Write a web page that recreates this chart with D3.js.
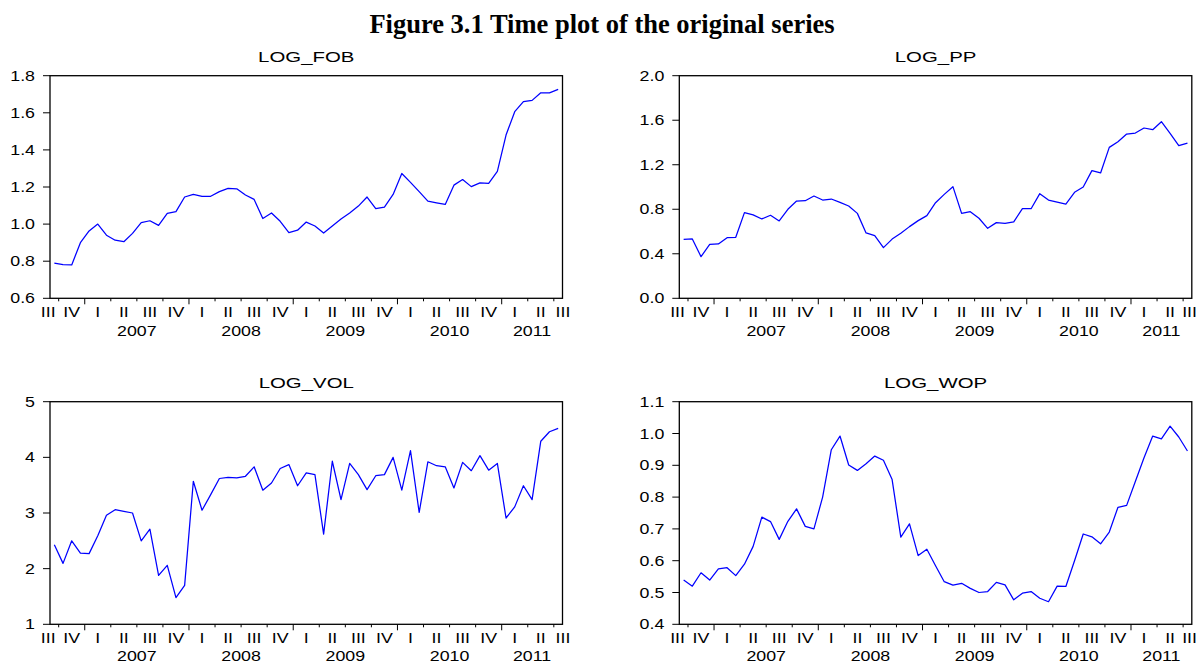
<!DOCTYPE html>
<html>
<head>
<meta charset="utf-8">
<script src="https://cdn.jsdelivr.net/npm/d3@7"></script>
<style>
  body { margin: 0; background: #fff; }
  svg { display: block; }
  text { font-family: "Liberation Sans", Arial, sans-serif; fill: #000; }
</style>
</head>
<body>
<div id="chart"></div>
<script>
// monthly observations, 2006M09 .. 2011M07
const startYear = 2006, startMonth = 9, nObs = 59;
const quarterNames = ['I', 'II', 'III', 'IV'];

const logFob = [0.79, 0.782, 0.78, 0.90, 0.963, 1.0, 0.94, 0.913, 0.905, 0.95,
  1.008, 1.018, 0.993, 1.058, 1.067, 1.146, 1.16, 1.15, 1.15, 1.175,
  1.193, 1.19, 1.157, 1.133, 1.03, 1.06, 1.015, 0.954, 0.967, 1.011,
  0.99, 0.952, 0.99, 1.027, 1.06, 1.097, 1.146, 1.083, 1.092, 1.16,
  1.273, 1.225, 1.175, 1.124, 1.115, 1.106, 1.21, 1.24, 1.202, 1.222,
  1.22, 1.284, 1.48, 1.606, 1.66, 1.667, 1.708, 1.707, 1.726];

const logPp = [0.53, 0.533, 0.374, 0.485, 0.488, 0.545, 0.548, 0.77, 0.75, 0.713,
  0.746, 0.695, 0.80, 0.874, 0.877, 0.919, 0.883, 0.892, 0.862, 0.829,
  0.763, 0.587, 0.563, 0.455, 0.532, 0.584, 0.644, 0.698, 0.743, 0.859,
  0.934, 1.003, 0.763, 0.778, 0.719, 0.629, 0.68, 0.674, 0.686, 0.805,
  0.805, 0.94, 0.883, 0.865, 0.847, 0.952, 1.0, 1.147, 1.126, 1.356,
  1.407, 1.476, 1.485, 1.53, 1.515, 1.587, 1.482, 1.371, 1.395];

const logVol = [2.43, 2.095, 2.50, 2.28, 2.27, 2.59, 2.96, 3.06, 3.03, 3.0,
  2.50, 2.71, 1.88, 2.06, 1.48, 1.70, 3.57, 3.05, 3.33, 3.62,
  3.64, 3.63, 3.66, 3.83, 3.41, 3.54, 3.80, 3.87, 3.49, 3.72,
  3.69, 2.62, 3.93, 3.24, 3.89, 3.69, 3.42, 3.67, 3.69, 4.0,
  3.41, 4.12, 3.01, 3.92, 3.85, 3.83, 3.45, 3.91, 3.76, 4.03,
  3.77, 3.89, 2.91, 3.11, 3.49, 3.24, 4.29, 4.46, 4.52];

const logWop = [0.539, 0.520, 0.562, 0.539, 0.574, 0.578, 0.553, 0.589, 0.645, 0.737,
  0.723, 0.667, 0.724, 0.763, 0.708, 0.70, 0.80, 0.949, 0.992, 0.901,
  0.884, 0.905, 0.929, 0.916, 0.855, 0.674, 0.716, 0.616, 0.636, 0.584,
  0.534, 0.523, 0.529, 0.513, 0.50, 0.503, 0.532, 0.524, 0.477, 0.498,
  0.503, 0.482, 0.471, 0.52, 0.519, 0.60, 0.684, 0.675, 0.653, 0.69,
  0.768, 0.774, 0.849, 0.924, 0.992, 0.983, 1.023, 0.989, 0.945];

const fobTicks = [0.6, 0.8, 1.0, 1.2, 1.4, 1.6, 1.8];
const ppTicks = [0.0, 0.4, 0.8, 1.2, 1.6, 2.0];
const volTicks = [1, 2, 3, 4, 5];
const wopTicks = [0.4, 0.5, 0.6, 0.7, 0.8, 0.9, 1.0, 1.1];

const W = 1198, H = 662;
const plotW = 512.5, plotH = 222.6;
const colX = [50, 679.3], rowY = [75.7, 401.7];
const yearGap = [38, 36.5];
const sx = 1.27;      // EViews text comes out stretched horizontally
const sxTitle = 1.36;

const panels = [
  { name: 'LOG_FOB', values: logFob, ticks: fobTicks, fmt: '.1f', col: 0, row: 0 },
  { name: 'LOG_PP', values: logPp, ticks: ppTicks, fmt: '.1f', col: 1, row: 0 },
  { name: 'LOG_VOL', values: logVol, ticks: volTicks, fmt: 'd', col: 0, row: 1 },
  { name: 'LOG_WOP', values: logWop, ticks: wopTicks, fmt: '.1f', col: 1, row: 1 }
];

const svg = d3.select('#chart').append('svg')
  .attr('width', W).attr('height', H);

svg.append('text')
  .attr('x', 602).attr('y', 33)
  .attr('text-anchor', 'middle')
  .style('font-family', '"Liberation Serif", "Times New Roman", serif')
  .style('font-weight', 'bold')
  .style('font-size', '26.5px')
  .text('Figure 3.1 Time plot of the original series');

// month index -> calendar
function monthOf(i) { return (startMonth - 1 + i) % 12; }
function yearOf(i) { return startYear + Math.floor((startMonth - 1 + i) / 12); }

// quarter boundaries inside the sample, plus quarter / year label spots
const qTicks = [], qLabels = [], yLabels = [];
for (let i = 1; i < nObs; i++) {
  if (monthOf(i) % 3 === 0) qTicks.push({ i: i, year: monthOf(i) === 0 });
}
{
  const q0 = -((startMonth - 1) % 3);
  for (let s = q0; s < nObs; s += 3) {
    const c = s + 1.5;
    qLabels.push({ c: Math.max(-0.2, Math.min(nObs + 0.05, c)), q: Math.floor(monthOf(Math.max(s, 0)) / 3) });
  }
  for (let y = startYear; y <= yearOf(nObs - 1); y++) {
    const s = (y - startYear) * 12 - (startMonth - 1);
    const a = Math.max(s, 0), b = Math.min(s + 12, nObs);
    if (b - a >= 6) yLabels.push({ y: y, c: (a + b) / 2 });
  }
}

function stretched(sel, x, y, k) {
  return sel.attr('transform', `translate(${x},${y}) scale(${k},1)`);
}

panels.forEach(p => {
  const left = colX[p.col], top = rowY[p.row];
  const g = svg.append('g').attr('transform', `translate(${left},${top})`);

  const x = d3.scaleLinear().domain([0, nObs]).range([0, plotW]);
  const y = d3.scaleLinear().domain(d3.extent(p.ticks)).range([plotH, 0]);
  const fmt = d3.format(p.fmt);

  // title
  stretched(g.append('text'), plotW / 2, -14, sxTitle)
    .attr('text-anchor', 'middle')
    .style('font-size', '15px')
    .text(p.name);

  // y axis
  p.ticks.forEach(t => {
    g.append('line')
      .attr('x1', -7).attr('x2', 0)
      .attr('y1', y(t)).attr('y2', y(t))
      .attr('stroke', '#000').attr('stroke-width', 1);
    stretched(g.append('text'), -15, y(t), sx)
      .attr('text-anchor', 'end')
      .attr('dy', '0.36em')
      .style('font-size', '14px')
      .text(fmt(t));
  });

  // x axis ticks at quarter starts, longer at year starts
  qTicks.forEach(t => {
    g.append('line')
      .attr('x1', x(t.i)).attr('x2', x(t.i))
      .attr('y1', plotH).attr('y2', plotH + (t.year ? 6 : 3))
      .attr('stroke', '#000').attr('stroke-width', 1);
  });
  qLabels.forEach(l => {
    const t = g.append('text')
      .attr('text-anchor', 'middle')
      .style('font-size', '14px')
      .text(quarterNames[l.q]);
    // keep the last label inside the page
    const half = t.node().getComputedTextLength() * sx / 2;
    const cx = Math.min(x(l.c), W - left - 1 - half);
    stretched(t, cx, plotH + 18.5, sx);
  });
  yLabels.forEach(l => {
    stretched(g.append('text'), x(l.c), plotH + yearGap[p.row], sx)
      .attr('text-anchor', 'middle')
      .style('font-size', '14px')
      .text(l.y);
  });

  // series
  const line = d3.line()
    .x((d, i) => x(i + 0.5))
    .y(d => y(d));
  g.append('path')
    .datum(p.values)
    .attr('d', line)
    .attr('fill', 'none')
    .attr('stroke', '#0000ff')
    .attr('stroke-width', 1.25)
    .attr('stroke-linejoin', 'round');

  // frame
  g.append('rect')
    .attr('x', 0).attr('y', 0)
    .attr('width', plotW).attr('height', plotH)
    .attr('fill', 'none')
    .attr('stroke', '#000').attr('stroke-width', 1.3);
});
</script>
</body>
</html>
